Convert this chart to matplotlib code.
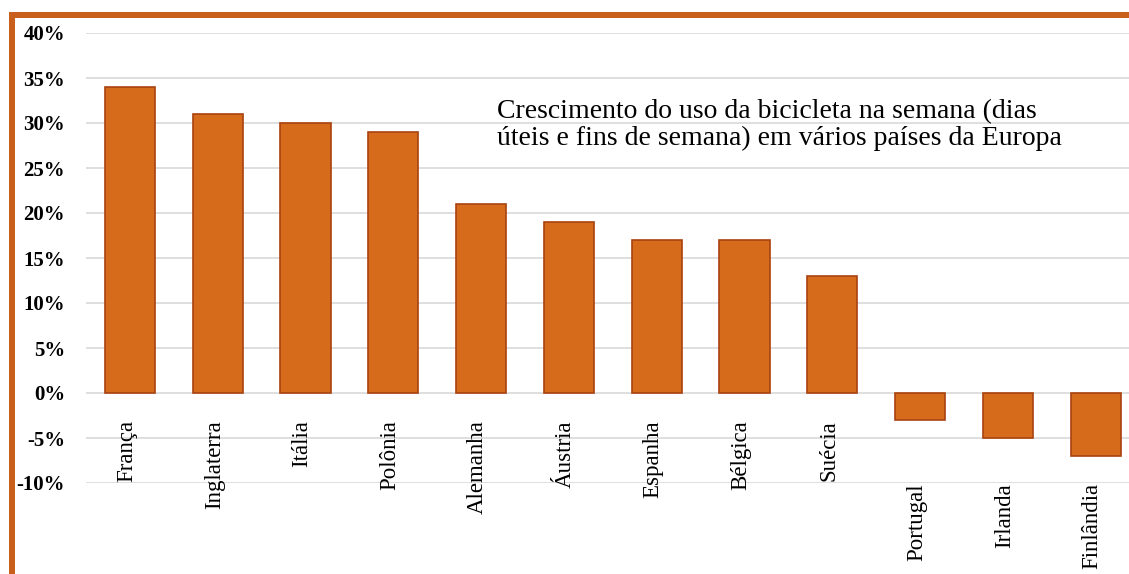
import matplotlib.pyplot as plt
from matplotlib.patches import Rectangle

paises = ["França", "Inglaterra", "Itália", "Polônia", "Alemanha", "Áustria",
          "Espanha", "Bélgica", "Suécia", "Portugal", "Irlanda", "Finlândia"]
crescimento = [34, 31, 30, 29, 21, 19, 17, 17, 13, -3, -5, -7]
yticks = [-10, -5, 0, 5, 10, 15, 20, 25, 30, 35, 40]
titulo = ("Crescimento do uso da bicicleta na semana (dias\n"
          "úteis e fins de semana) em vários países da Europa")

W, H = 1129, 574
fig = plt.figure(figsize=(W / 100, H / 100), dpi=100)
# axes: left 86px, top 33px (40%), bottom 483px (-10%)
ax = fig.add_axes([86 / W, 1 - 483 / H, (W - 86) / W, 450 / H])

x = list(range(len(paises)))
ax.bar(x, crescimento, width=0.57, color="#d66b1c", edgecolor="#a8420f",
       linewidth=1.2, zorder=3)

ax.set_ylim(-10, 40)
ax.set_xlim(-0.5, (W - 86) / 87.8 - 0.5)
ax.set_yticks(yticks)
ax.set_yticklabels([f"{v}%" for v in yticks], fontfamily="Liberation Serif",
                   fontweight="bold", fontsize=15)
ax.tick_params(axis="y", length=0, pad=15)
ax.set_xticks([])
ax.grid(axis="y", color="#d9d9d9", linewidth=1.2, zorder=0)
for s in ax.spines.values():
    s.set_visible(False)

# category labels, rotated, below zero line / below axis for negatives
for xi, nome, v in zip(x, paises, crescimento):
    ytop = -3 if v >= 0 else -10
    ax.text(xi - 0.04, ytop, nome, rotation=90, ha="center", va="top",
            fontfamily="Liberation Serif", fontsize=16.5, zorder=4)

ax.text(4.18, 29.8, titulo, ha="left", va="center",
        fontfamily="Liberation Serif", fontsize=20, linespacing=1.1)

# orange frame (top and left)
fig.add_artist(Rectangle((9 / W, 1 - 18 / H), 1 - 9 / W, 6 / H,
                         transform=fig.transFigure, color="#c85f1a", lw=0))
fig.add_artist(Rectangle((9 / W, 0), 6 / W, 1 - 12 / H,
                         transform=fig.transFigure, color="#c85f1a", lw=0))

fig.savefig("out.png", dpi=100)
